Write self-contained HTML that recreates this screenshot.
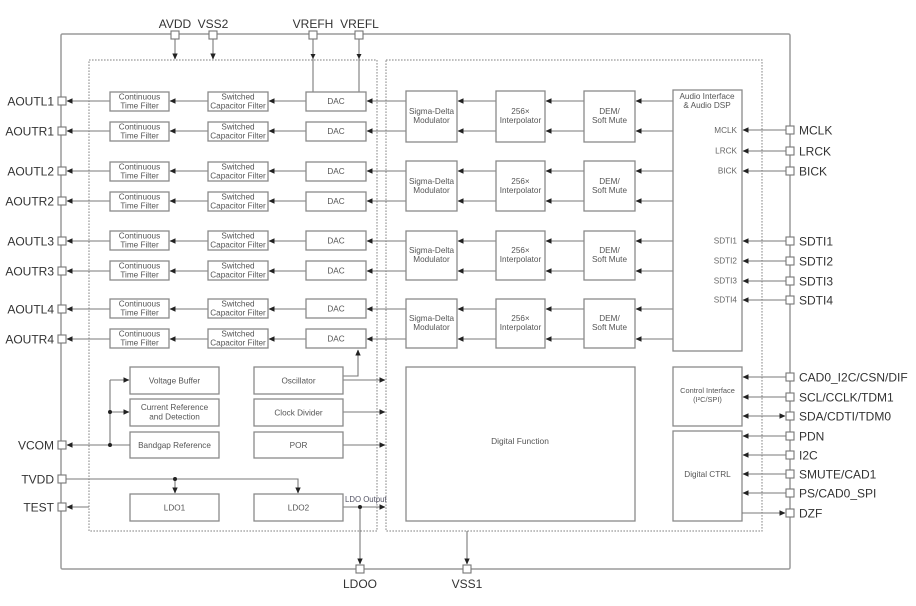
<!DOCTYPE html>
<html><head><meta charset="utf-8"><style>
html,body{margin:0;padding:0;background:#fff;}
svg{display:block;}
.b{fill:#fff;stroke:#8a8a8a;stroke-width:1.3;}
.l{stroke:#7a7a7a;stroke-width:1.1;fill:none;}
.p{fill:#fff;stroke:#777;stroke-width:1.1;}
.t{font-family:"Liberation Sans",Arial,sans-serif;font-size:12px;fill:#333;}
.s{font-family:"Liberation Sans",Arial,sans-serif;font-size:8.2px;fill:#555;text-anchor:middle;}
.r{font-family:"Liberation Sans",Arial,sans-serif;font-size:8.2px;fill:#666;text-anchor:end;}
</style></head><body>
<svg width="916" height="606" viewBox="0 0 916 606" xmlns="http://www.w3.org/2000/svg">
<defs>
<marker id="a" markerWidth="6" markerHeight="6" refX="5.5" refY="3" orient="auto" markerUnits="userSpaceOnUse"><path d="M0,0.3 L6,3 L0,5.7 z" fill="#222"/></marker>
<marker id="s" markerWidth="6" markerHeight="6" refX="0.5" refY="3" orient="auto" markerUnits="userSpaceOnUse"><path d="M6,0.3 L0,3 L6,5.7 z" fill="#222"/></marker>
</defs>

<!-- outer box -->
<rect x="61" y="34" width="729" height="535" fill="none" stroke="#9a9a9a" stroke-width="1.5" rx="1.5"/>
<!-- dotted boxes -->
<rect x="89" y="60" width="288" height="471" fill="none" stroke="#9a9a9a" stroke-width="1.2" stroke-dasharray="1.6,1.4"/>
<rect x="386" y="60" width="376" height="471" fill="none" stroke="#9a9a9a" stroke-width="1.2" stroke-dasharray="1.6,1.4"/>

<!-- top pins -->
<line class="l" x1="175" y1="39" x2="175" y2="59" marker-end="url(#a)"/>
<line class="l" x1="213" y1="39" x2="213" y2="59" marker-end="url(#a)"/>
<line class="l" x1="313" y1="39" x2="313" y2="92"/>
<line class="l" x1="359" y1="39" x2="359" y2="92"/>
<polygon points="310.5,54 315.5,54 313,59" fill="#222"/>
<polygon points="356.5,54 361.5,54 359,59" fill="#222"/>
<rect class="p" x="171" y="31" width="8" height="8"/>
<rect class="p" x="209" y="31" width="8" height="8"/>
<rect class="p" x="309" y="31" width="8" height="8"/>
<rect class="p" x="355" y="31" width="8" height="8"/>
<text class="t" x="175" y="28" text-anchor="middle">AVDD</text>
<text class="t" x="213" y="28" text-anchor="middle">VSS2</text>
<text class="t" x="313" y="28" text-anchor="middle">VREFH</text>
<text class="t" x="359.5" y="28" text-anchor="middle">VREFL</text>

<!-- analog rows -->
<g id="rows">
<line class="l" x1="110" y1="101" x2="67" y2="101" marker-end="url(#a)"/>
<line class="l" x1="208" y1="101" x2="170" y2="101" marker-end="url(#a)"/>
<line class="l" x1="306" y1="101" x2="269" y2="101" marker-end="url(#a)"/>
<line class="l" x1="406" y1="101" x2="367" y2="101" marker-end="url(#a)"/>
<rect class="b" x="110" y="92" width="59" height="19"/><text class="s" x="139.5" y="99.5">Continuous</text><text class="s" x="139.5" y="108.5">Time Filter</text>
<rect class="b" x="208" y="92" width="60" height="19"/><text class="s" x="238" y="99.5">Switched</text><text class="s" x="238" y="108.5">Capacitor Filter</text>
<rect class="b" x="306" y="92" width="60" height="19"/><text class="s" x="336" y="104">DAC</text>
<rect class="p" x="58" y="97" width="8" height="8"/><text class="t" x="54" y="105.5" text-anchor="end">AOUTL1</text>

<line class="l" x1="110" y1="131" x2="67" y2="131" marker-end="url(#a)"/>
<line class="l" x1="208" y1="131" x2="170" y2="131" marker-end="url(#a)"/>
<line class="l" x1="306" y1="131" x2="269" y2="131" marker-end="url(#a)"/>
<line class="l" x1="406" y1="131" x2="367" y2="131" marker-end="url(#a)"/>
<rect class="b" x="110" y="122" width="59" height="19"/><text class="s" x="139.5" y="129.5">Continuous</text><text class="s" x="139.5" y="138.5">Time Filter</text>
<rect class="b" x="208" y="122" width="60" height="19"/><text class="s" x="238" y="129.5">Switched</text><text class="s" x="238" y="138.5">Capacitor Filter</text>
<rect class="b" x="306" y="122" width="60" height="19"/><text class="s" x="336" y="134">DAC</text>
<rect class="p" x="58" y="127" width="8" height="8"/><text class="t" x="54" y="135.5" text-anchor="end">AOUTR1</text>

<line class="l" x1="110" y1="171" x2="67" y2="171" marker-end="url(#a)"/>
<line class="l" x1="208" y1="171" x2="170" y2="171" marker-end="url(#a)"/>
<line class="l" x1="306" y1="171" x2="269" y2="171" marker-end="url(#a)"/>
<line class="l" x1="406" y1="171" x2="367" y2="171" marker-end="url(#a)"/>
<rect class="b" x="110" y="162" width="59" height="19"/><text class="s" x="139.5" y="169.5">Continuous</text><text class="s" x="139.5" y="178.5">Time Filter</text>
<rect class="b" x="208" y="162" width="60" height="19"/><text class="s" x="238" y="169.5">Switched</text><text class="s" x="238" y="178.5">Capacitor Filter</text>
<rect class="b" x="306" y="162" width="60" height="19"/><text class="s" x="336" y="174">DAC</text>
<rect class="p" x="58" y="167" width="8" height="8"/><text class="t" x="54" y="175.5" text-anchor="end">AOUTL2</text>

<line class="l" x1="110" y1="201" x2="67" y2="201" marker-end="url(#a)"/>
<line class="l" x1="208" y1="201" x2="170" y2="201" marker-end="url(#a)"/>
<line class="l" x1="306" y1="201" x2="269" y2="201" marker-end="url(#a)"/>
<line class="l" x1="406" y1="201" x2="367" y2="201" marker-end="url(#a)"/>
<rect class="b" x="110" y="192" width="59" height="19"/><text class="s" x="139.5" y="199.5">Continuous</text><text class="s" x="139.5" y="208.5">Time Filter</text>
<rect class="b" x="208" y="192" width="60" height="19"/><text class="s" x="238" y="199.5">Switched</text><text class="s" x="238" y="208.5">Capacitor Filter</text>
<rect class="b" x="306" y="192" width="60" height="19"/><text class="s" x="336" y="204">DAC</text>
<rect class="p" x="58" y="197" width="8" height="8"/><text class="t" x="54" y="205.5" text-anchor="end">AOUTR2</text>

<line class="l" x1="110" y1="241" x2="67" y2="241" marker-end="url(#a)"/>
<line class="l" x1="208" y1="241" x2="170" y2="241" marker-end="url(#a)"/>
<line class="l" x1="306" y1="241" x2="269" y2="241" marker-end="url(#a)"/>
<line class="l" x1="406" y1="241" x2="367" y2="241" marker-end="url(#a)"/>
<rect class="b" x="110" y="231" width="59" height="19"/><text class="s" x="139.5" y="238.5">Continuous</text><text class="s" x="139.5" y="247.5">Time Filter</text>
<rect class="b" x="208" y="231" width="60" height="19"/><text class="s" x="238" y="238.5">Switched</text><text class="s" x="238" y="247.5">Capacitor Filter</text>
<rect class="b" x="306" y="231" width="60" height="19"/><text class="s" x="336" y="243.5">DAC</text>
<rect class="p" x="58" y="237" width="8" height="8"/><text class="t" x="54" y="245.5" text-anchor="end">AOUTL3</text>

<line class="l" x1="110" y1="271" x2="67" y2="271" marker-end="url(#a)"/>
<line class="l" x1="208" y1="271" x2="170" y2="271" marker-end="url(#a)"/>
<line class="l" x1="306" y1="271" x2="269" y2="271" marker-end="url(#a)"/>
<line class="l" x1="406" y1="271" x2="367" y2="271" marker-end="url(#a)"/>
<rect class="b" x="110" y="261" width="59" height="19"/><text class="s" x="139.5" y="268.5">Continuous</text><text class="s" x="139.5" y="277.5">Time Filter</text>
<rect class="b" x="208" y="261" width="60" height="19"/><text class="s" x="238" y="268.5">Switched</text><text class="s" x="238" y="277.5">Capacitor Filter</text>
<rect class="b" x="306" y="261" width="60" height="19"/><text class="s" x="336" y="273.5">DAC</text>
<rect class="p" x="58" y="267" width="8" height="8"/><text class="t" x="54" y="275.5" text-anchor="end">AOUTR3</text>

<line class="l" x1="110" y1="309" x2="67" y2="309" marker-end="url(#a)"/>
<line class="l" x1="208" y1="309" x2="170" y2="309" marker-end="url(#a)"/>
<line class="l" x1="306" y1="309" x2="269" y2="309" marker-end="url(#a)"/>
<line class="l" x1="406" y1="309" x2="367" y2="309" marker-end="url(#a)"/>
<rect class="b" x="110" y="299" width="59" height="19"/><text class="s" x="139.5" y="306.5">Continuous</text><text class="s" x="139.5" y="315.5">Time Filter</text>
<rect class="b" x="208" y="299" width="60" height="19"/><text class="s" x="238" y="306.5">Switched</text><text class="s" x="238" y="315.5">Capacitor Filter</text>
<rect class="b" x="306" y="299" width="60" height="19"/><text class="s" x="336" y="311.5">DAC</text>
<rect class="p" x="58" y="305" width="8" height="8"/><text class="t" x="54" y="313.5" text-anchor="end">AOUTL4</text>

<line class="l" x1="110" y1="339" x2="67" y2="339" marker-end="url(#a)"/>
<line class="l" x1="208" y1="339" x2="170" y2="339" marker-end="url(#a)"/>
<line class="l" x1="306" y1="339" x2="269" y2="339" marker-end="url(#a)"/>
<line class="l" x1="406" y1="339" x2="367" y2="339" marker-end="url(#a)"/>
<rect class="b" x="110" y="329" width="59" height="19"/><text class="s" x="139.5" y="336.5">Continuous</text><text class="s" x="139.5" y="345.5">Time Filter</text>
<rect class="b" x="208" y="329" width="60" height="19"/><text class="s" x="238" y="336.5">Switched</text><text class="s" x="238" y="345.5">Capacitor Filter</text>
<rect class="b" x="306" y="329" width="60" height="19"/><text class="s" x="336" y="341.5">DAC</text>
<rect class="p" x="58" y="335" width="8" height="8"/><text class="t" x="54" y="343.5" text-anchor="end">AOUTR4</text>
</g>

<!-- digital groups -->
<g>
<line class="l" x1="496" y1="101" x2="458" y2="101" marker-end="url(#a)"/>
<line class="l" x1="496" y1="131" x2="458" y2="131" marker-end="url(#a)"/>
<line class="l" x1="584" y1="101" x2="546" y2="101" marker-end="url(#a)"/>
<line class="l" x1="584" y1="131" x2="546" y2="131" marker-end="url(#a)"/>
<line class="l" x1="673" y1="101" x2="636" y2="101" marker-end="url(#a)"/>
<line class="l" x1="673" y1="131" x2="636" y2="131" marker-end="url(#a)"/>

<line class="l" x1="496" y1="171" x2="458" y2="171" marker-end="url(#a)"/>
<line class="l" x1="496" y1="201" x2="458" y2="201" marker-end="url(#a)"/>
<line class="l" x1="584" y1="171" x2="546" y2="171" marker-end="url(#a)"/>
<line class="l" x1="584" y1="201" x2="546" y2="201" marker-end="url(#a)"/>
<line class="l" x1="673" y1="171" x2="636" y2="171" marker-end="url(#a)"/>
<line class="l" x1="673" y1="201" x2="636" y2="201" marker-end="url(#a)"/>

<line class="l" x1="496" y1="241" x2="458" y2="241" marker-end="url(#a)"/>
<line class="l" x1="496" y1="271" x2="458" y2="271" marker-end="url(#a)"/>
<line class="l" x1="584" y1="241" x2="546" y2="241" marker-end="url(#a)"/>
<line class="l" x1="584" y1="271" x2="546" y2="271" marker-end="url(#a)"/>
<line class="l" x1="673" y1="241" x2="636" y2="241" marker-end="url(#a)"/>
<line class="l" x1="673" y1="271" x2="636" y2="271" marker-end="url(#a)"/>

<line class="l" x1="496" y1="309" x2="458" y2="309" marker-end="url(#a)"/>
<line class="l" x1="496" y1="339" x2="458" y2="339" marker-end="url(#a)"/>
<line class="l" x1="584" y1="309" x2="546" y2="309" marker-end="url(#a)"/>
<line class="l" x1="584" y1="339" x2="546" y2="339" marker-end="url(#a)"/>
<line class="l" x1="673" y1="309" x2="636" y2="309" marker-end="url(#a)"/>
<line class="l" x1="673" y1="339" x2="636" y2="339" marker-end="url(#a)"/>

<rect class="b" x="406" y="91" width="51" height="51"/><text class="s" x="431.5" y="114">Sigma-Delta</text><text class="s" x="431.5" y="123">Modulator</text>
<rect class="b" x="496" y="91" width="49" height="51"/><text class="s" x="520.5" y="114">256×</text><text class="s" x="520.5" y="123">Interpolator</text>
<rect class="b" x="584" y="91" width="51" height="51"/><text class="s" x="609.5" y="114">DEM/</text><text class="s" x="609.5" y="123">Soft Mute</text>

<rect class="b" x="406" y="161" width="51" height="50"/><text class="s" x="431.5" y="184">Sigma-Delta</text><text class="s" x="431.5" y="193">Modulator</text>
<rect class="b" x="496" y="161" width="49" height="50"/><text class="s" x="520.5" y="184">256×</text><text class="s" x="520.5" y="193">Interpolator</text>
<rect class="b" x="584" y="161" width="51" height="50"/><text class="s" x="609.5" y="184">DEM/</text><text class="s" x="609.5" y="193">Soft Mute</text>

<rect class="b" x="406" y="231" width="51" height="49"/><text class="s" x="431.5" y="253">Sigma-Delta</text><text class="s" x="431.5" y="262">Modulator</text>
<rect class="b" x="496" y="231" width="49" height="49"/><text class="s" x="520.5" y="253">256×</text><text class="s" x="520.5" y="262">Interpolator</text>
<rect class="b" x="584" y="231" width="51" height="49"/><text class="s" x="609.5" y="253">DEM/</text><text class="s" x="609.5" y="262">Soft Mute</text>

<rect class="b" x="406" y="299" width="51" height="49"/><text class="s" x="431.5" y="321">Sigma-Delta</text><text class="s" x="431.5" y="330">Modulator</text>
<rect class="b" x="496" y="299" width="49" height="49"/><text class="s" x="520.5" y="321">256×</text><text class="s" x="520.5" y="330">Interpolator</text>
<rect class="b" x="584" y="299" width="51" height="49"/><text class="s" x="609.5" y="321">DEM/</text><text class="s" x="609.5" y="330">Soft Mute</text>
</g>

<!-- audio interface -->
<rect class="b" x="673" y="90" width="69" height="261"/>
<text class="s" x="707" y="99">Audio Interface</text>
<text class="s" x="707" y="108">&amp; Audio DSP</text>
<text class="r" x="737" y="133">MCLK</text>
<text class="r" x="737" y="153.5">LRCK</text>
<text class="r" x="737" y="173.5">BICK</text>
<text class="r" x="737" y="243.5">SDTI1</text>
<text class="r" x="737" y="263.5">SDTI2</text>
<text class="r" x="737" y="283.5">SDTI3</text>
<text class="r" x="737" y="302.5">SDTI4</text>

<!-- control boxes -->
<rect class="b" x="673" y="367" width="69" height="59"/>
<text class="s" x="707.5" y="393" style="font-size:7.4px">Control Interface</text>
<text class="s" x="707.5" y="402" style="font-size:7.4px">(I²C/SPI)</text>
<rect class="b" x="673" y="431" width="69" height="90"/>
<text class="s" x="707.5" y="477">Digital CTRL</text>

<!-- right pins -->
<g>
<line class="l" x1="786" y1="130" x2="743" y2="130" marker-end="url(#a)"/>
<line class="l" x1="786" y1="151" x2="743" y2="151" marker-end="url(#a)"/>
<line class="l" x1="786" y1="171" x2="743" y2="171" marker-end="url(#a)"/>
<line class="l" x1="786" y1="241" x2="743" y2="241" marker-end="url(#a)"/>
<line class="l" x1="786" y1="261" x2="743" y2="261" marker-end="url(#a)"/>
<line class="l" x1="786" y1="281" x2="743" y2="281" marker-end="url(#a)"/>
<line class="l" x1="786" y1="300" x2="743" y2="300" marker-end="url(#a)"/>
<line class="l" x1="786" y1="377" x2="743" y2="377" marker-end="url(#a)"/>
<line class="l" x1="786" y1="397" x2="743" y2="397" marker-end="url(#a)"/>
<line class="l" x1="743" y1="416" x2="785" y2="416" marker-end="url(#a)" marker-start="url(#s)"/>
<line class="l" x1="786" y1="436" x2="743" y2="436" marker-end="url(#a)"/>
<line class="l" x1="786" y1="455" x2="743" y2="455" marker-end="url(#a)"/>
<line class="l" x1="786" y1="474" x2="743" y2="474" marker-end="url(#a)"/>
<line class="l" x1="786" y1="493" x2="743" y2="493" marker-end="url(#a)"/>
<line class="l" x1="742" y1="513" x2="785" y2="513" marker-end="url(#a)"/>

<rect class="p" x="786" y="126" width="8" height="8"/>
<rect class="p" x="786" y="147" width="8" height="8"/>
<rect class="p" x="786" y="167" width="8" height="8"/>
<rect class="p" x="786" y="237" width="8" height="8"/>
<rect class="p" x="786" y="257" width="8" height="8"/>
<rect class="p" x="786" y="277" width="8" height="8"/>
<rect class="p" x="786" y="296" width="8" height="8"/>
<rect class="p" x="786" y="373" width="8" height="8"/>
<rect class="p" x="786" y="393" width="8" height="8"/>
<rect class="p" x="786" y="412" width="8" height="8"/>
<rect class="p" x="786" y="432" width="8" height="8"/>
<rect class="p" x="786" y="451" width="8" height="8"/>
<rect class="p" x="786" y="470" width="8" height="8"/>
<rect class="p" x="786" y="489" width="8" height="8"/>
<rect class="p" x="786" y="509" width="8" height="8"/>

<text class="t" x="799" y="134.5">MCLK</text>
<text class="t" x="799" y="155.5">LRCK</text>
<text class="t" x="799" y="175.5">BICK</text>
<text class="t" x="799" y="245.5">SDTI1</text>
<text class="t" x="799" y="265.5">SDTI2</text>
<text class="t" x="799" y="285.5">SDTI3</text>
<text class="t" x="799" y="304.5">SDTI4</text>
<text class="t" x="799" y="381.5">CAD0_I2C/CSN/DIF</text>
<text class="t" x="799" y="401.5">SCL/CCLK/TDM1</text>
<text class="t" x="799" y="420.5">SDA/CDTI/TDM0</text>
<text class="t" x="799" y="440.5">PDN</text>
<text class="t" x="799" y="459.5">I2C</text>
<text class="t" x="799" y="478.5">SMUTE/CAD1</text>
<text class="t" x="799" y="497.5">PS/CAD0_SPI</text>
<text class="t" x="799" y="517.5">DZF</text>
</g>

<!-- lower left blocks -->
<polyline class="l" points="343,376 358,376 358,350" marker-end="url(#a)"/>
<line class="l" x1="343" y1="380" x2="385" y2="380" marker-end="url(#a)"/>
<line class="l" x1="343" y1="412" x2="385" y2="412" marker-end="url(#a)"/>
<line class="l" x1="343" y1="445" x2="385" y2="445" marker-end="url(#a)"/>
<line class="l" x1="343" y1="507" x2="385" y2="507" marker-end="url(#a)"/>
<line class="l" x1="360" y1="507" x2="360" y2="564" marker-end="url(#a)"/>
<circle cx="360" cy="507" r="2" fill="#222"/>
<line class="l" x1="467" y1="531" x2="467" y2="564" marker-end="url(#a)"/>

<rect class="b" x="130" y="367" width="89" height="27"/><text class="s" x="174.5" y="383.5">Voltage Buffer</text>
<rect class="b" x="130" y="399" width="89" height="27"/><text class="s" x="174.5" y="410">Current Reference</text><text class="s" x="174.5" y="419.5">and Detection</text>
<rect class="b" x="130" y="432" width="89" height="26"/><text class="s" x="174.5" y="448">Bandgap Reference</text>
<rect class="b" x="254" y="367" width="89" height="27"/><text class="s" x="298.5" y="383.5">Oscillator</text>
<rect class="b" x="254" y="399" width="89" height="27"/><text class="s" x="298.5" y="415.5">Clock Divider</text>
<rect class="b" x="254" y="432" width="89" height="26"/><text class="s" x="298.5" y="448">POR</text>
<rect class="b" x="130" y="494" width="89" height="27"/><text class="s" x="174.5" y="510.5">LDO1</text>
<rect class="b" x="254" y="494" width="89" height="27"/><text class="s" x="298.5" y="510.5">LDO2</text>
<text x="345" y="502" style="font-family:'Liberation Sans',Arial,sans-serif;font-size:7.8px;fill:#556">LDO Output</text>

<rect class="b" x="406" y="367" width="229" height="154"/>
<text class="s" x="520" y="444" style="font-size:8.4px">Digital Function</text>

<!-- VCOM / TVDD / TEST -->
<line class="l" x1="130" y1="445" x2="67" y2="445" marker-end="url(#a)"/>
<line class="l" x1="110" y1="445" x2="110" y2="380"/>
<line class="l" x1="110" y1="380" x2="129" y2="380" marker-end="url(#a)"/>
<line class="l" x1="110" y1="412" x2="129" y2="412" marker-end="url(#a)"/>
<circle cx="110" cy="412" r="2" fill="#222"/>
<circle cx="110" cy="445" r="2" fill="#222"/>
<polyline class="l" points="66,479 298,479 298,493" marker-end="url(#a)"/>
<line class="l" x1="175" y1="479" x2="175" y2="493" marker-end="url(#a)"/>
<circle cx="175" cy="479" r="2" fill="#222"/>
<line class="l" x1="89" y1="507" x2="67" y2="507" marker-end="url(#a)"/>

<rect class="p" x="58" y="441" width="8" height="8"/><text class="t" x="54" y="449.5" text-anchor="end">VCOM</text>
<rect class="p" x="58" y="475" width="8" height="8"/><text class="t" x="54" y="483.5" text-anchor="end">TVDD</text>
<rect class="p" x="58" y="503" width="8" height="8"/><text class="t" x="54" y="511.5" text-anchor="end">TEST</text>

<!-- bottom pins -->
<rect class="p" x="356" y="565" width="8" height="8"/>
<rect class="p" x="463" y="565" width="8" height="8"/>
<text class="t" x="360" y="588" text-anchor="middle">LDOO</text>
<text class="t" x="467" y="588" text-anchor="middle">VSS1</text>
</svg>
</body></html>
